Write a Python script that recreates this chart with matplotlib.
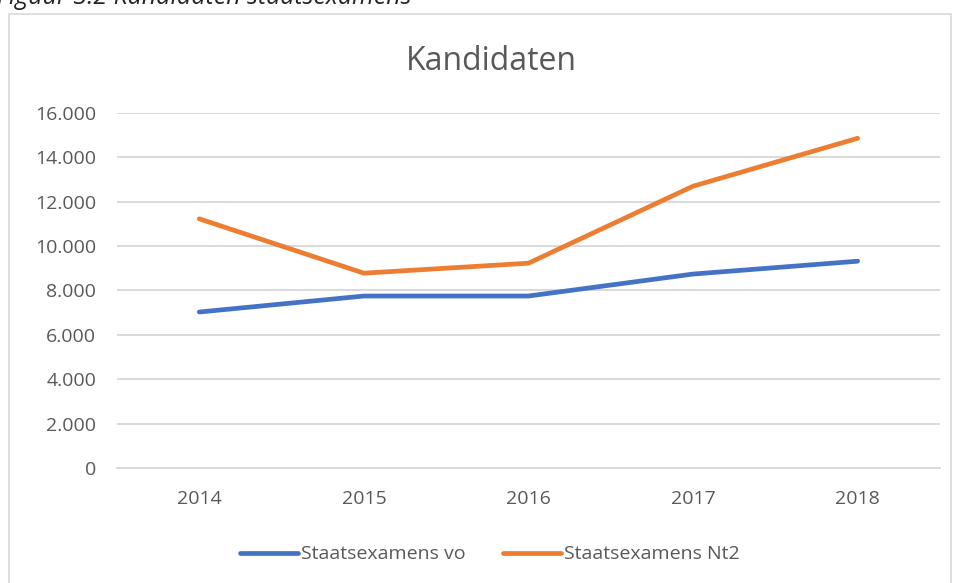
import matplotlib
matplotlib.use("Agg")
import matplotlib.pyplot as plt
from matplotlib.patches import Rectangle
from matplotlib.ticker import FuncFormatter

years = ["2014", "2015", "2016", "2017", "2018"]
vo = [7030, 7750, 7750, 8740, 9320]
nt2 = [11230, 8780, 9230, 12700, 14860]

plt.rcParams["font.family"] = ["Open Sans", "DejaVu Sans"]
text_col = "#595959"
grid_col = "#d9d9d9"

fig = plt.figure(figsize=(9.56, 5.83), dpi=100)
ax = fig.add_axes([0.1224, 0.1973, 0.8608, 0.6089])

# chart frame + caption that is cut off at the top
fig.patches.append(Rectangle((9 / 956, -0.05), 942 / 956, 1 - 14 / 583 + 0.05,
                             transform=fig.transFigure, fill=False,
                             edgecolor=grid_col, linewidth=1.2))
fig.text(-0.003, 1 - 4 / 583, "Figuur 3.2 Kandidaten staatsexamens", fontsize=18,
         style="italic", color="#262626", va="baseline", ha="left")

x = range(len(years))
ax.plot(x, vo, color="#4472C4", lw=3.4, solid_capstyle="round",
        solid_joinstyle="round", label="Staatsexamens vo")
ax.plot(x, nt2, color="#ED7D31", lw=3.4, solid_capstyle="round",
        solid_joinstyle="round", label="Staatsexamens Nt2")

ax.set_xlim(-0.5, 4.5)
ax.set_ylim(0, 16000)
ax.set_yticks(range(0, 16001, 2000))
ax.yaxis.set_major_formatter(FuncFormatter(lambda v, p: f"{int(v):,}".replace(",", ".")))
ax.set_xticks(list(x))
ax.set_xticklabels(years)
ax.grid(axis="y", color=grid_col, lw=1.4)
ax.set_axisbelow(True)
for s in ["top", "right", "left"]:
    ax.spines[s].set_visible(False)
ax.spines["bottom"].set_color(grid_col)
ax.spines["bottom"].set_linewidth(1.4)
ax.tick_params(axis="both", length=0, labelsize=14, labelcolor=text_col)
ax.tick_params(axis="y", pad=15)
ax.tick_params(axis="x", pad=16)

fig.text(491 / 956, 1 - 70 / 583, "Kandidaten", fontsize=23, color=text_col,
         ha="center", va="baseline")

fig.legend(loc="center", bbox_to_anchor=(490 / 956, 1 - 554 / 583), ncol=2, frameon=False,
           fontsize=14, labelcolor=text_col, handlelength=3.0, handletextpad=0.15,
           columnspacing=1.9, handleheight=0.5)

fig.savefig("out.png", dpi=100)
